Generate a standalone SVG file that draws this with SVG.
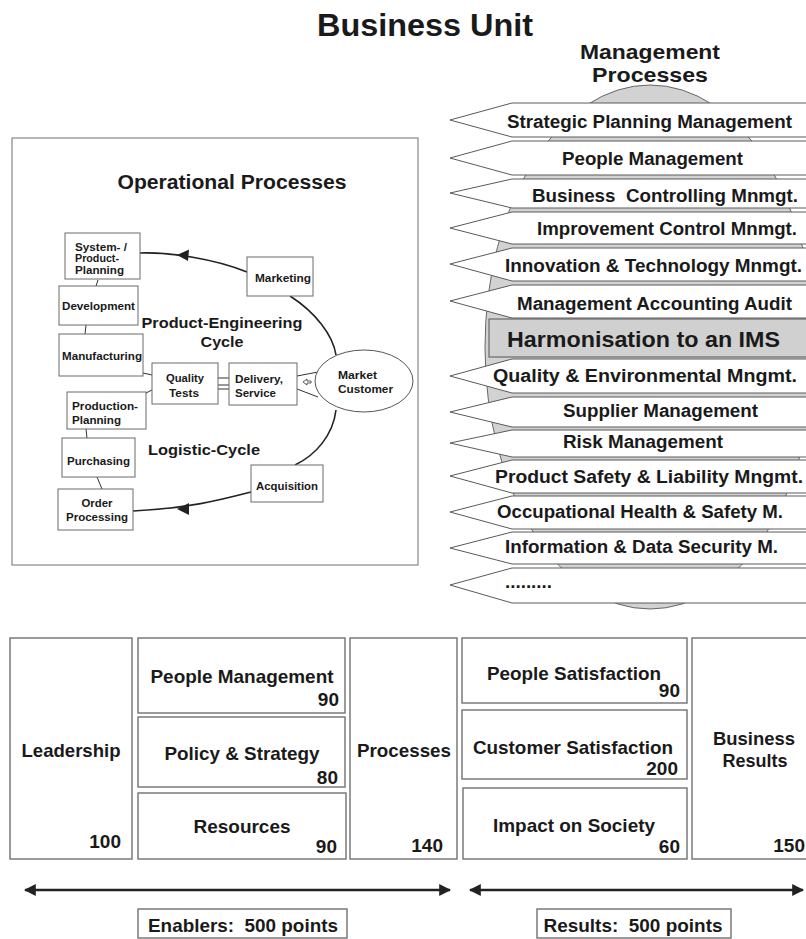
<svg xmlns="http://www.w3.org/2000/svg" width="806" height="939" viewBox="0 0 806 939">
<style>
.t{font-family:"Liberation Sans",Arial,Helvetica,sans-serif;font-weight:bold;fill:#1a1a1a}
.s{font-size:11.5px}
.a{font-size:18px}
.b{font-size:19px}
.box{fill:#fff;stroke:#6a6a6a;stroke-width:1}
.bx{fill:#fff;stroke:#7a7a7a;stroke-width:1.5}
.arr{fill:#fff;stroke:#5a5a5a;stroke-width:1}
.ln{fill:none;stroke:#222;stroke-width:1.6}
.ln1{fill:none;stroke:#333;stroke-width:1}
</style>
<defs>
<marker id="ah" viewBox="0 0 10 10" refX="9" refY="5" markerWidth="12" markerHeight="12" markerUnits="userSpaceOnUse" orient="auto-start-reverse">
<path d="M0,0 L10,5 L0,10 Z" fill="#222"/>
</marker>
</defs>
<rect width="806" height="939" fill="#fff"/>

<text class="t" x="425" y="36" font-size="32" text-anchor="middle" textLength="216" lengthAdjust="spacingAndGlyphs">Business Unit</text>

<!-- Management processes -->
<g id="mgmt">
<text class="t" x="650" y="59" font-size="20.5" text-anchor="middle" textLength="140" lengthAdjust="spacingAndGlyphs">Management</text>
<text class="t" x="650" y="82" font-size="20.5" text-anchor="middle" textLength="116" lengthAdjust="spacingAndGlyphs">Processes</text>
<ellipse cx="650" cy="347" rx="165" ry="262" fill="#d2d2d2" stroke="#666" stroke-width="1"/>
<g id="a1"><polygon class="arr" points="450,120 512,103 812,103 812,137 512,137"/><text class="t a" x="507" y="128" textLength="285" lengthAdjust="spacingAndGlyphs">Strategic Planning Management</text></g>
<g id="a2"><polygon class="arr" points="450,158 512,141 812,141 812,175 512,175"/><text class="t a" x="562" y="165" textLength="181" lengthAdjust="spacingAndGlyphs">People Management</text></g>
<g id="a3"><polygon class="arr" points="450,193 512,179 812,179 812,208 512,208"/><text class="t a" x="532" y="202" textLength="266" lengthAdjust="spacingAndGlyphs" xml:space="preserve">Business  Controlling Mnmgt.</text></g>
<g id="a4"><polygon class="arr" points="450,228 512,212 812,212 812,244 512,244"/><text class="t a" x="537" y="235" textLength="260" lengthAdjust="spacingAndGlyphs">Improvement Control Mnmgt.</text></g>
<g id="a5"><polygon class="arr" points="450,264 512,248 812,248 812,281 512,281"/><text class="t a" x="505" y="272" textLength="297" lengthAdjust="spacingAndGlyphs">Innovation &amp; Technology Mnmgt.</text></g>
<g id="a6"><polygon class="arr" points="450,301 512,285 812,285 812,318 512,318"/><text class="t a" x="517" y="310" textLength="275" lengthAdjust="spacingAndGlyphs">Management Accounting Audit</text></g>
<g id="harm"><rect x="489" y="319" width="323" height="38" fill="#d0d0d0" stroke="#555" stroke-width="1"/><text class="t" x="507" y="347" font-size="21.5" textLength="273" lengthAdjust="spacingAndGlyphs">Harmonisation to an IMS</text></g>
<g id="a7"><polygon class="arr" points="450,376 512,359 812,359 812,393 512,393"/><text class="t a" x="493" y="382" textLength="304" lengthAdjust="spacingAndGlyphs">Quality &amp; Environmental Mngmt.</text></g>
<g id="a8"><polygon class="arr" points="450,412 512,397 812,397 812,427 512,427"/><text class="t a" x="563" y="417" textLength="195" lengthAdjust="spacingAndGlyphs">Supplier Management</text></g>
<g id="a9"><polygon class="arr" points="450,443 512,430 812,430 812,457 512,457"/><text class="t a" x="563" y="448" textLength="160" lengthAdjust="spacingAndGlyphs">Risk Management</text></g>
<g id="a10"><polygon class="arr" points="450,476 512,460 812,460 812,493 512,493"/><text class="t a" x="495" y="483" textLength="308" lengthAdjust="spacingAndGlyphs">Product Safety &amp; Liability Mngmt.</text></g>
<g id="a11"><polygon class="arr" points="450,512 512,496 812,496 812,529 512,529"/><text class="t a" x="497" y="518" textLength="286" lengthAdjust="spacingAndGlyphs">Occupational Health &amp; Safety M.</text></g>
<g id="a12"><polygon class="arr" points="450,548 512,532 812,532 812,564 512,564"/><text class="t a" x="505" y="553" textLength="273" lengthAdjust="spacingAndGlyphs">Information &amp; Data Security M.</text></g>
<g id="a13"><polygon class="arr" points="450,585 512,568 812,568 812,603 512,603"/><text class="t a" x="505" y="588" textLength="47" lengthAdjust="spacingAndGlyphs">.........</text></g>
</g>

<!-- Operational processes -->
<g id="ops">
<rect x="12" y="138" width="406" height="427" fill="#fff" stroke="#888" stroke-width="1.2"/>
<text class="t" x="232" y="189" font-size="20" text-anchor="middle" textLength="229" lengthAdjust="spacingAndGlyphs">Operational Processes</text>
<text class="t" x="222" y="328" font-size="15.5" text-anchor="middle" textLength="161" lengthAdjust="spacingAndGlyphs">Product-Engineering</text>
<text class="t" x="222" y="347" font-size="15.5" text-anchor="middle" textLength="43" lengthAdjust="spacingAndGlyphs">Cycle</text>
<text class="t" x="204" y="455" font-size="15.5" text-anchor="middle" textLength="112" lengthAdjust="spacingAndGlyphs">Logistic-Cycle</text>
</g>

<g id="connectors">
<path class="ln" d="M140,253 C170,252 215,259 247,272"/>
<path d="M177,255 L189,249.5 L188,261 Z" fill="#222"/>
<path class="ln" d="M290,296 C315,312 333,335 336,355"/>
<path class="ln" d="M336,410 C333,435 316,455 295,465"/>
<path class="ln" d="M251,492 C220,500 190,508 133,511"/>
<path d="M177,509 L189,503 L189,515 Z" fill="#222"/>
<path class="ln1" d="M98,280 L96,286"/>
<path class="ln1" d="M86,325 L85,334"/>
<path class="ln1" d="M143,373 L152,375"/>
<path class="ln1" d="M146,393 L152,390"/>
<path class="ln1" d="M218,378 L229,378 M218,385 L229,385 M218,389 L229,389"/>
<path class="ln1" d="M297,376 L318,372 M297,389 L318,397"/>
<path d="M303,382 L307,379 L307,381 L311,381 L311,383 L307,383 L307,385 Z" fill="#fff" stroke="#333" stroke-width="0.8"/>
<path class="ln1" d="M86,429 L87,438"/>
<path class="ln1" d="M97,477 L102,489"/>
</g>

<g id="n-sys"><rect class="box" x="65" y="233" width="75" height="46"/>
<text class="t s" x="75" y="251" textLength="52" lengthAdjust="spacingAndGlyphs">System- /</text>
<text class="t s" x="75" y="262" textLength="44" lengthAdjust="spacingAndGlyphs">Product-</text>
<text class="t s" x="75" y="274" textLength="49" lengthAdjust="spacingAndGlyphs">Planning</text></g>
<g id="n-dev"><rect class="box" x="59" y="286" width="79" height="39"/>
<text class="t s" x="98.5" y="310" text-anchor="middle" textLength="73" lengthAdjust="spacingAndGlyphs">Development</text></g>
<g id="n-man"><rect class="box" x="59" y="334" width="84" height="42"/>
<text class="t s" x="102" y="360" text-anchor="middle" textLength="80" lengthAdjust="spacingAndGlyphs">Manufacturing</text></g>
<g id="n-qt"><rect class="box" x="152" y="363" width="66" height="41"/>
<text class="t s" x="185" y="382" text-anchor="middle" textLength="38" lengthAdjust="spacingAndGlyphs">Quality</text>
<text class="t s" x="184" y="397" text-anchor="middle" textLength="30" lengthAdjust="spacingAndGlyphs">Tests</text></g>
<g id="n-del"><rect class="box" x="229" y="363" width="68" height="42"/>
<text class="t s" x="235" y="383" textLength="48" lengthAdjust="spacingAndGlyphs">Delivery,</text>
<text class="t s" x="235" y="397" textLength="41" lengthAdjust="spacingAndGlyphs">Service</text></g>
<g id="n-mkt"><ellipse cx="364" cy="381" rx="49" ry="31" fill="#fff" stroke="#555" stroke-width="1"/>
<text class="t s" x="338" y="379" textLength="39" lengthAdjust="spacingAndGlyphs">Market</text>
<text class="t s" x="338" y="393" textLength="55" lengthAdjust="spacingAndGlyphs">Customer</text></g>
<g id="n-marketing"><rect class="box" x="247" y="257" width="66" height="39"/>
<text class="t s" x="283" y="282" text-anchor="middle" textLength="56" lengthAdjust="spacingAndGlyphs">Marketing</text></g>
<g id="n-pp"><rect class="box" x="67" y="392" width="79" height="37"/>
<text class="t s" x="72" y="410" textLength="66" lengthAdjust="spacingAndGlyphs">Production-</text>
<text class="t s" x="72" y="424" textLength="49" lengthAdjust="spacingAndGlyphs">Planning</text></g>
<g id="n-pur"><rect class="box" x="62" y="438" width="73" height="39"/>
<text class="t s" x="98.5" y="465" text-anchor="middle" textLength="63" lengthAdjust="spacingAndGlyphs">Purchasing</text></g>
<g id="n-op"><rect class="box" x="58" y="489" width="75" height="41"/>
<text class="t s" x="97" y="507" text-anchor="middle" textLength="31" lengthAdjust="spacingAndGlyphs">Order</text>
<text class="t s" x="97" y="521" text-anchor="middle" textLength="62" lengthAdjust="spacingAndGlyphs">Processing</text></g>
<g id="n-acq"><rect class="box" x="251" y="465" width="72" height="37"/>
<text class="t s" x="287" y="490" text-anchor="middle" textLength="62" lengthAdjust="spacingAndGlyphs">Acquisition</text></g>

<!-- EFQM model -->
<g id="b-lead"><rect class="bx" x="10" y="638" width="122" height="221"/>
<text class="t b" x="71" y="757" text-anchor="middle" textLength="99" lengthAdjust="spacingAndGlyphs">Leadership</text>
<text class="t b" x="121" y="848" text-anchor="end">100</text></g>
<g id="b-pm"><rect class="bx" x="138" y="638" width="207" height="75"/>
<text class="t b" x="242" y="683" text-anchor="middle" textLength="183" lengthAdjust="spacingAndGlyphs">People Management</text>
<text class="t b" x="339" y="706" text-anchor="end">90</text></g>
<g id="b-ps"><rect class="bx" x="138" y="717" width="207" height="70"/>
<text class="t b" x="242" y="760" text-anchor="middle" textLength="155" lengthAdjust="spacingAndGlyphs">Policy &amp; Strategy</text>
<text class="t b" x="338" y="784" text-anchor="end">80</text></g>
<g id="b-res"><rect class="bx" x="138" y="793" width="208" height="66"/>
<text class="t b" x="242" y="833" text-anchor="middle" textLength="97" lengthAdjust="spacingAndGlyphs">Resources</text>
<text class="t b" x="337" y="853" text-anchor="end">90</text></g>
<g id="b-proc"><rect class="bx" x="350" y="638" width="107" height="221"/>
<text class="t b" x="404" y="757" text-anchor="middle" textLength="94" lengthAdjust="spacingAndGlyphs">Processes</text>
<text class="t b" x="443" y="852" text-anchor="end">140</text></g>
<g id="b-psat"><rect class="bx" x="462" y="638" width="225" height="65"/>
<text class="t b" x="574" y="680" text-anchor="middle" textLength="174" lengthAdjust="spacingAndGlyphs">People Satisfaction</text>
<text class="t b" x="680" y="697" text-anchor="end">90</text></g>
<g id="b-csat"><rect class="bx" x="462" y="710" width="225" height="69"/>
<text class="t b" x="573" y="754" text-anchor="middle" textLength="200" lengthAdjust="spacingAndGlyphs">Customer Satisfaction</text>
<text class="t b" x="678" y="775" text-anchor="end">200</text></g>
<g id="b-soc"><rect class="bx" x="463" y="788" width="224" height="71"/>
<text class="t b" x="574" y="832" text-anchor="middle" textLength="162" lengthAdjust="spacingAndGlyphs">Impact on Society</text>
<text class="t b" x="680" y="853" text-anchor="end">60</text></g>
<g id="b-bres"><rect class="bx" x="692" y="638" width="120" height="221"/>
<text class="t b" x="754" y="745" text-anchor="middle" textLength="82" lengthAdjust="spacingAndGlyphs">Business</text>
<text class="t b" x="755" y="767" text-anchor="middle" textLength="65" lengthAdjust="spacingAndGlyphs">Results</text>
<text class="t b" x="805" y="852" text-anchor="end">150</text></g>

<g id="scale-arrows">
<line x1="25" y1="890" x2="450" y2="890" stroke="#222" stroke-width="2.5" marker-start="url(#ah)" marker-end="url(#ah)"/>
<line x1="470" y1="890" x2="803" y2="890" stroke="#222" stroke-width="2.5" marker-start="url(#ah)" marker-end="url(#ah)"/>
</g>
<g id="enablers"><rect class="bx" x="138" y="909" width="209" height="29"/>
<text class="t b" x="243" y="932" text-anchor="middle" textLength="190" lengthAdjust="spacingAndGlyphs" xml:space="preserve">Enablers:  500 points</text></g>
<g id="results"><rect class="bx" x="537" y="909" width="194" height="29"/>
<text class="t b" x="633" y="932" text-anchor="middle" textLength="179" lengthAdjust="spacingAndGlyphs" xml:space="preserve">Results:  500 points</text></g>
</svg>
